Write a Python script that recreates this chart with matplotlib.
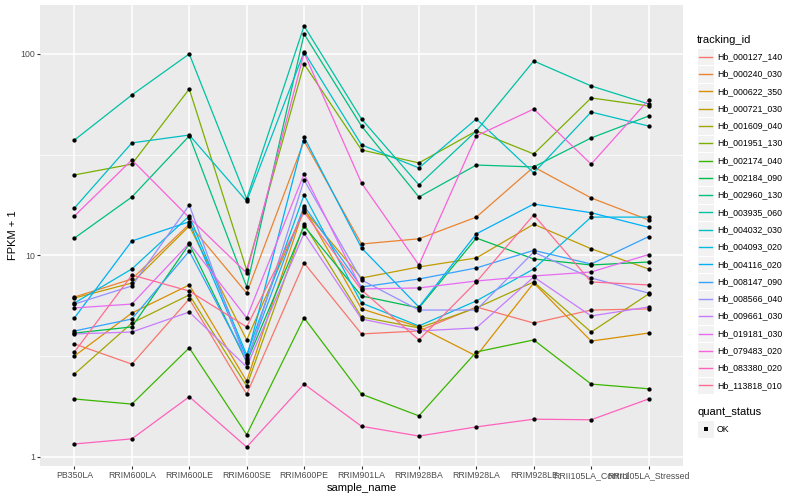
import matplotlib
matplotlib.use('Agg')
import matplotlib.pyplot as plt
from matplotlib.lines import Line2D
from matplotlib.patches import Rectangle
import numpy as np

plt.rcParams['font.family'] = ['Liberation Sans', 'DejaVu Sans']

# samples on the x axis
samples = ['PB350LA', 'RRIM600LA', 'RRIM600LE', 'RRIM600SE', 'RRIM600PE',
           'RRIM901LA', 'RRIM928BA', 'RRIM928LA', 'RRIM928LE',
           'RRII105LA_Control', 'RRII105LA_Stressed']

tracking_ids = ['Hb_000127_140', 'Hb_000240_030', 'Hb_000622_350', 'Hb_000721_030',
                'Hb_001609_040', 'Hb_001951_130', 'Hb_002174_040', 'Hb_002184_090',
                'Hb_002960_130', 'Hb_003935_060', 'Hb_004032_030', 'Hb_004093_020',
                'Hb_004116_020', 'Hb_008147_090', 'Hb_008566_040', 'Hb_009661_030',
                'Hb_019181_030', 'Hb_079483_020', 'Hb_083380_020', 'Hb_113818_010']

# ggplot hue palette, 20 levels
colors = ['#F8766D', '#EA8331', '#D89000', '#C09B00', '#A3A500', '#7CAE00', '#39B600',
          '#00BB4E', '#00BF7D', '#00C1A3', '#00BFC4', '#00BAE0', '#00B0F6', '#35A2FF',
          '#9590FF', '#C77CFF', '#E76BF3', '#FA62DB', '#FF62BC', '#FF6C91']

# FPKM + 1 per gene, same order as samples
hb_000127_140 = [3.64, 2.89, 6.08, 2.05, 9.18, 4.08, 4.22, 5.55, 4.62, 5.36, 5.43]
hb_000240_030 = [6.22, 7.64, 14.3, 6.51, 37.0, 11.4, 12.1, 15.5, 27.5, 19.3, 15.0]
hb_000622_350 = [3.17, 5.18, 7.14, 2.38, 17.2, 5.43, 4.42, 3.17, 7.30, 3.76, 4.12]
hb_000721_030 = [6.15, 7.30, 14.0, 3.81, 16.8, 7.73, 8.77, 9.72, 14.3, 10.8, 8.57]
hb_001609_040 = [2.58, 4.62, 6.37, 2.25, 14.3, 4.95, 4.37, 5.49, 7.39, 4.17, 6.44]
hb_001951_130 = [25.1, 28.4, 67.0, 8.47, 89.2, 33.4, 28.8, 41.5, 31.9, 60.5, 55.2]
hb_002174_040 = [1.94, 1.83, 3.48, 1.29, 4.90, 2.05, 1.60, 3.32, 3.81, 2.30, 2.18]
hb_002184_090 = [4.12, 4.42, 11.4, 2.96, 14.0, 6.30, 5.49, 12.2, 9.61, 8.97, 9.28]
hb_002960_130 = [12.2, 19.5, 39.2, 6.98, 125.7, 43.9, 19.5, 28.1, 27.5, 38.3, 49.2]
hb_003935_060 = [37.4, 62.6, 100.0, 19.1, 137.7, 47.6, 22.4, 41.5, 92.3, 69.4, 56.5]
hb_004032_030 = [17.2, 36.2, 39.6, 18.6, 102.3, 35.4, 27.2, 47.6, 25.7, 51.5, 43.9]
hb_004093_020 = [5.81, 8.57, 15.7, 3.21, 20.0, 5.81, 4.47, 5.95, 8.57, 15.5, 15.5]
hb_004116_020 = [4.90, 11.8, 14.7, 3.10, 38.7, 10.9, 5.55, 12.8, 18.0, 16.3, 13.8]
hb_008147_090 = [4.22, 4.84, 10.5, 3.03, 17.6, 6.98, 7.64, 8.67, 10.6, 9.07, 12.4]
hb_008566_040 = [5.74, 7.06, 17.8, 2.93, 23.7, 7.56, 5.36, 5.36, 10.4, 7.73, 6.51]
hb_009661_030 = [4.08, 4.17, 5.24, 2.80, 12.9, 4.84, 4.22, 4.37, 7.82, 5.01, 5.55]
hb_019181_030 = [5.49, 5.74, 11.5, 4.90, 25.4, 6.82, 6.90, 7.47, 7.91, 8.28, 10.1]
hb_079483_020 = [15.7, 29.8, 15.4, 8.19, 101.2, 22.9, 8.97, 39.2, 53.3, 28.4, 59.1]
hb_083380_020 = [1.16, 1.23, 1.99, 1.12, 2.30, 1.42, 1.27, 1.41, 1.54, 1.53, 1.94]
hb_113818_010 = [3.32, 8.00, 6.66, 4.42, 16.4, 6.74, 3.81, 7.39, 15.9, 7.39, 7.14]

series = [hb_000127_140, hb_000240_030, hb_000622_350, hb_000721_030, hb_001609_040,
          hb_001951_130, hb_002174_040, hb_002184_090, hb_002960_130, hb_003935_060,
          hb_004032_030, hb_004093_020, hb_004116_020, hb_008147_090, hb_008566_040,
          hb_009661_030, hb_019181_030, hb_079483_020, hb_083380_020, hb_113818_010]

W, H = 800, 500
fig = plt.figure(figsize=(8, 5), dpi=100)
fig.patch.set_facecolor('white')
ax = fig.add_axes([40 / W, 1 - 466 / H, (683 - 40) / W, (466 - 5) / H])

x = np.arange(len(samples))
for vals, c in zip(series, colors):
    ax.plot(x, vals, color=c, lw=0.9, zorder=3)
for vals in series:
    ax.plot(x, vals, 'o', color='black', ms=3.1, mew=0, zorder=4)

ax.set_yscale('log')
ax.set_ylim(0.902, 175)
ax.set_xlim(-0.6, len(samples) - 0.4)
ax.set_yticks([1, 10, 100])
ax.set_yticklabels(['1', '10', '100'])
ax.set_yticks([10 ** 0.5, 10 ** 1.5], minor=True)
ax.set_xticks(x)
ax.set_xticklabels(samples)
ax.xaxis.set_minor_locator(matplotlib.ticker.NullLocator())

ax.set_facecolor('#EBEBEB')
for s in ax.spines.values():
    s.set_visible(False)
ax.grid(which='major', color='white', lw=1.1, zorder=0)
ax.grid(which='minor', axis='y', color='white', lw=0.5, zorder=0)
ax.set_axisbelow(True)
ax.tick_params(which='major', length=2, width=0.8, color='#333333',
               labelsize=6.3, labelcolor='#4D4D4D', pad=1.5)
ax.tick_params(which='minor', length=0)

ax.set_xlabel('sample_name', fontsize=8, labelpad=2)
ax.set_ylabel('FPKM + 1', fontsize=8, labelpad=2)


# legend drawn by hand, ggplot style
def fx(px):
    return px / W


def fy(py):
    return 1 - py / H


fig.text(fx(697), fy(40), 'tracking_id', fontsize=8, ha='left', va='center')
step = 17.3
for i, (name, c) in enumerate(zip(tracking_ids, colors)):
    yc = 56.7 + i * step
    fig.add_artist(Rectangle((fx(697), fy(yc + step / 2)), 17 / W, step / H,
                             transform=fig.transFigure, fc='#F2F2F2', ec='white', lw=0.8))
    fig.add_artist(Line2D([fx(699), fx(712)], [fy(yc), fy(yc)], color=c, lw=1.0,
                          transform=fig.transFigure))
    fig.text(fx(717), fy(yc), name, fontsize=6.3, ha='left', va='center')

fig.text(fx(697), fy(412), 'quant_status', fontsize=8, ha='left', va='center')
fig.add_artist(Rectangle((fx(697), fy(429 + step / 2)), 17 / W, step / H,
                         transform=fig.transFigure, fc='#F2F2F2', ec='white', lw=0.8))
fig.add_artist(Line2D([fx(705.5)], [fy(429)], marker='s', color='black', ms=2.8, mew=0,
                      transform=fig.transFigure))
fig.text(fx(717), fy(429), 'OK', fontsize=6.3, ha='left', va='center')

fig.savefig('out.png', dpi=100, facecolor='white')
